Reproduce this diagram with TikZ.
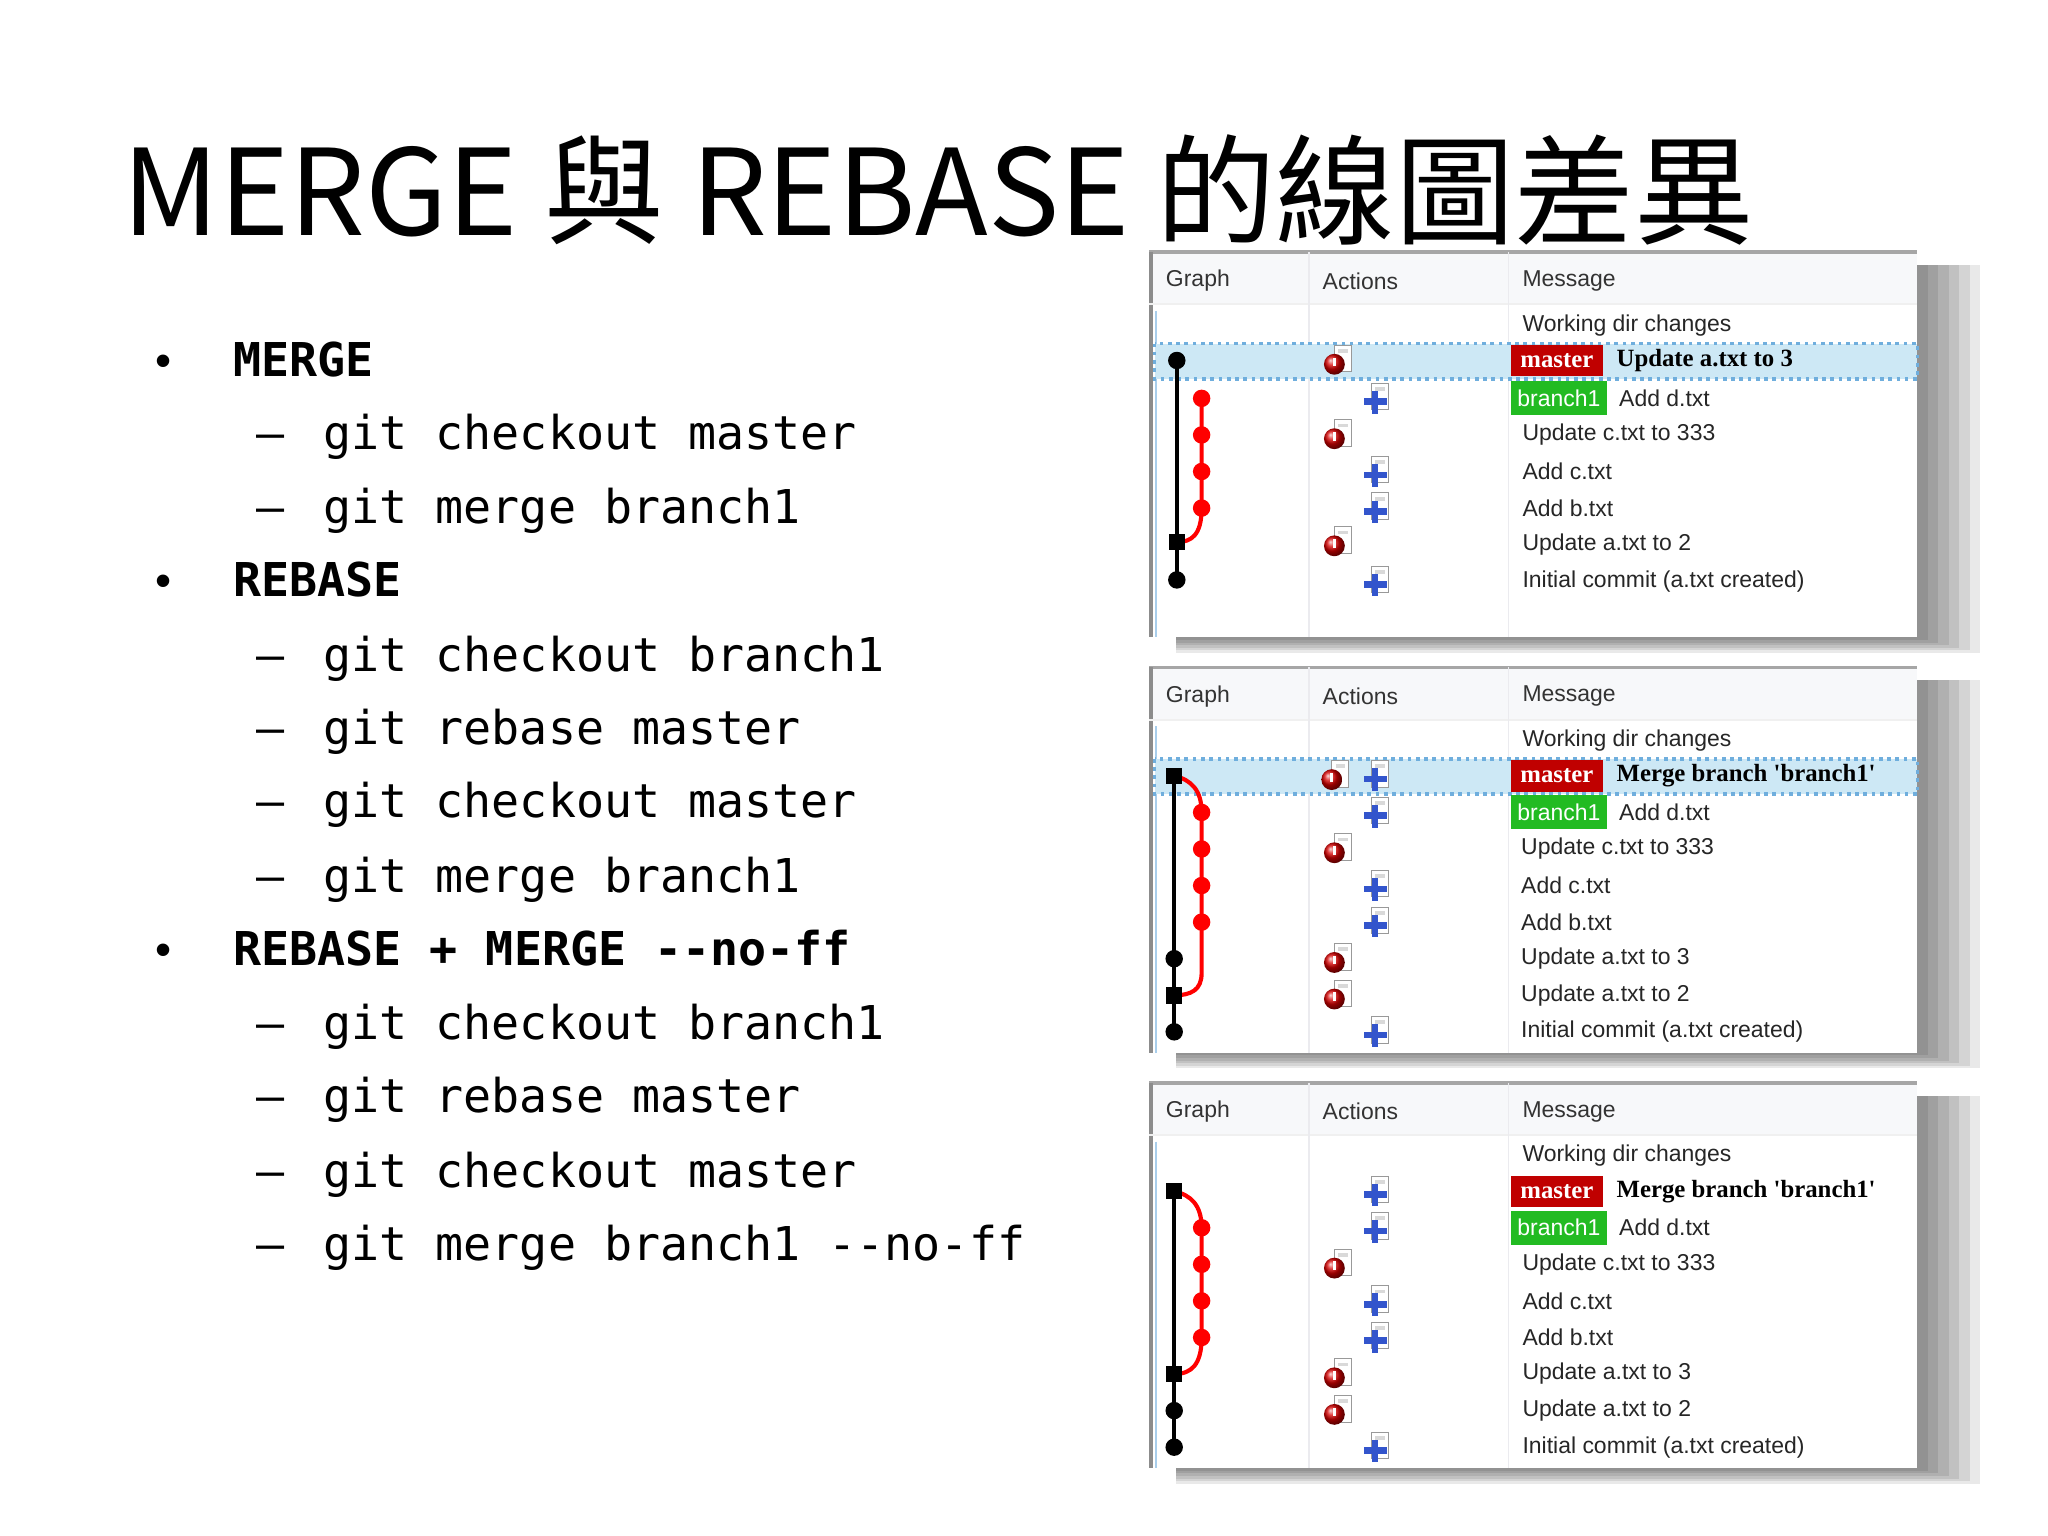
\documentclass[tikz,border=0pt]{standalone}
\usepackage{fontspec}
\setmainfont{Liberation Sans}
\newfontfamily\cjk{Noto Sans CJK TC}
\newfontfamily\monof{DejaVu Sans Mono}
\newfontfamily\serifb{Liberation Serif}
\definecolor{hlfill}{HTML}{CDE8F5}
\definecolor{hlline}{HTML}{6FAEDD}
\definecolor{mred}{HTML}{C00000}
\definecolor{bgreen}{HTML}{22BB22}
\definecolor{iblue}{HTML}{3355CC}
\definecolor{hdr}{HTML}{F7F8FA}
\tikzset{
  x=0.01cm,y=-0.01cm,
  txt/.style={inner sep=0pt,anchor=base west},
  bul/.style={txt,font=\monof\fontsize{10.15}{12}\selectfont\bfseries},
  sub/.style={txt,font=\monof\fontsize{10.15}{12}\selectfont},
  msg/.style={inner sep=0pt,anchor=west,font=\fontsize{5.0}{6}\selectfont,text=black!85},
  hd/.style={inner sep=0pt,anchor=west,font=\fontsize{5.0}{6}\selectfont,text=black!80},
  bmsg/.style={inner sep=0pt,anchor=west,font=\serifb\bfseries\fontsize{5.4}{6}\selectfont},
  gdot/.style={circle,fill=black,inner sep=0pt,minimum size=3.8pt},
  gsq/.style={rectangle,fill=black,inner sep=0pt,minimum size=3.6pt},
  rdot/.style={circle,fill=red,inner sep=0pt,minimum size=3.8pt},
  gl/.style={line width=0.9pt},
  ricon/.pic={
    \begin{scope}[scale=1.45]
    \draw[fill=white,draw=black!40,line width=0.2pt] (-3,-8) rectangle (6,6);
    \fill[fill=black!15] (-1,-6) rectangle (4,-4);
    \shade[ball color=red!85!black] (-3,2) circle [radius=5.5];
    \fill[white] (-3.7,-1.5) rectangle (-2.3,3);
    \end{scope}
  },
  bicon/.pic={
    \begin{scope}[scale=1.45]
    \draw[fill=white,draw=black!40,line width=0.2pt] (-2,-8) rectangle (7,6);
    \fill[fill=black!15] (0,-6) rectangle (5,-4);
    \fill[iblue] (-6,0) rectangle (6,3.5);
    \fill[iblue] (-2,-4) rectangle (1.5,8);
    \end{scope}
  }
}
\newcommand\panelbase[1]{%
 \begin{scope}[shift={(0,#1)}]
  \foreach \s in {8,16,24,32,40,48}{
    \fill[black,opacity=0.085] (900,10) rectangle (1468+\s,295+\s/4);}
  \fill[white] (880,0) rectangle (1468,295);
  \fill[hdr] (880,0) rectangle (1468,40);
  \draw[black!35,line width=0.8pt] (880,0) -- (1468,0);
  \draw[black!45,line width=0.8pt] (881,0) -- (881,295);
  \draw[black!6] (880,40) -- (1468,40);
  \draw[blue!20!black!8] (1002,0) -- (1002,295) (1155,0) -- (1155,295);
  \draw[hlline!60] (885,45) -- (885,295);
  \node[hd] (gh#1) at (892,22) {Graph};
  \node[hd] (ah#1) at (1012,22) {Actions};
  \node[hd] (mh#1) at (1165,22) {Message};
  \node[msg] (wd#1) at (1165,56) {Working dir changes};
 \end{scope}}
\newcommand\hl[1]{\fill[hlfill] (884,#1-13) rectangle (1468,#1+14);
  \draw[hlline,densely dotted,line width=0.8pt] (884,#1-13) rectangle (1468,#1+14);}
\newcommand\labels[3]{% y0, y1, master message
  \fill[mred] (1157,#1-12) rectangle (1227,#1+12);
  \node[inner sep=0pt,text=white,font=\serifb\bfseries\fontsize{5.4}{6}\selectfont] at (1192,#1) {master};
  \node[bmsg] at (1237,#1) {#3};
  \fill[bgreen] (1157,#2-13) rectangle (1230,#2+13);
  \node[inner sep=0pt,text=white,font=\fontsize{5.0}{6}\selectfont] at (1193.5,#2) {branch1};
  \node[msg] at (1239,#2) {Add d.txt};}
\begin{document}
\begin{tikzpicture}
\fill[white] (0,0) rectangle (1568,1176);
\useasboundingbox (0,0) rectangle (1568,1176);
\node[txt,font=\cjk\fontsize{26}{30}\selectfont] (title) at (93,180) {MERGE 與 REBASE 的線圖差異};
% list
\foreach \y/\t in {275/MERGE,444/REBASE,726/REBASE + MERGE --no-ff}{
  \node[txt,font=\fontsize{10}{12}\selectfont] at (118,\y+13) {•};
  \node[bul] at (178,\y+13) {\t};}
\foreach \y/\t in {331/git checkout master,388/git merge branch1,501/git checkout branch1,557/git rebase master,613/git checkout master,670/git merge branch1,783/git checkout branch1,839/git rebase master,896/git checkout master,952/git merge branch1 --no-ff}{
  \node[sub] at (196,\y+13) {–};
  \node[sub] at (247,\y+13) {\t};}
% panels
\panelbase{193}\panelbase{511}\panelbase{829}
% ---- panel 1
\hl{276}
\labels{276}{305}{Update a.txt to 3}
\foreach \y/\m in {333/Update c.txt to 333,361/Add c.txt,389/Add b.txt,417/Update a.txt to 2,445/Initial commit (a.txt created)}
  \node[msg] at (1165,\y) {\m};
\draw[black,gl] (901,276) -- (901,444);
\draw[red,gl] (920,305) -- (920,389) .. controls (920,410) and (912,415) .. (901,415);
\node[gdot] (p1a) at (901,276) {};
\node[gsq] (p1b) at (901,415) {};
\node[gdot] (p1c) at (901,444) {};
\foreach \y in {305,333,361,389} \node[rdot] at (920,\y) {};
\foreach \y in {276,333,415} \pic at (1026,\y) {ricon};
\foreach \y in {305,361,389,445} \pic at (1053,\y) {bicon};
% ---- panel 2
\hl{594}
\labels{594}{622}{Merge branch 'branch1'}
\foreach \y/\m in {650/Update c.txt to 333,678/Add c.txt,706/Add b.txt,734/Update a.txt to 3,762/Update a.txt to 2,790/Initial commit (a.txt created)}
  \node[msg] at (1164,\y) {\m};
\draw[black,gl] (899,594) -- (899,790);
\draw[red,gl] (899,594) .. controls (912,597) and (920,605) .. (920,622) -- (920,706) -- (920,745) .. controls (920,758) and (912,762) .. (899,762);
\node[gsq] (p2a) at (899,594) {};
\node[gdot] (p2b) at (899,734) {};
\node[gsq] (p2c) at (899,762) {};
\node[gdot] (p2d) at (899,790) {};
\foreach \y in {622,650,678,706} \node[rdot] at (920,\y) {};
\foreach \y in {650,734,762} \pic at (1026,\y) {ricon};
\pic at (1024,594) {ricon};
\foreach \y in {594,622,678,706,790} \pic at (1053,\y) {bicon};
% ---- panel 3
\labels{912}{940}{Merge branch 'branch1'}
\foreach \y/\m in {968/Update c.txt to 333,996/Add c.txt,1024/Add b.txt,1052/Update a.txt to 3,1080/Update a.txt to 2,1108/Initial commit (a.txt created)}
  \node[msg] at (1165,\y) {\m};
\draw[black,gl] (899,912) -- (899,1108);
\draw[red,gl] (899,912) .. controls (912,915) and (920,923) .. (920,940) -- (920,1024) .. controls (920,1045) and (912,1052) .. (899,1052);
\node[gsq] (p3a) at (899,912) {};
\node[gsq] (p3b) at (899,1052) {};
\node[gdot] (p3c) at (899,1080) {};
\node[gdot] (p3d) at (899,1108) {};
\foreach \y in {940,968,996,1024} \node[rdot] at (920,\y) {};
\foreach \y in {968,1052,1080} \pic at (1026,\y) {ricon};
\foreach \y in {912,940,996,1024,1108} \pic at (1053,\y) {bicon};
\end{tikzpicture}
\end{document}
